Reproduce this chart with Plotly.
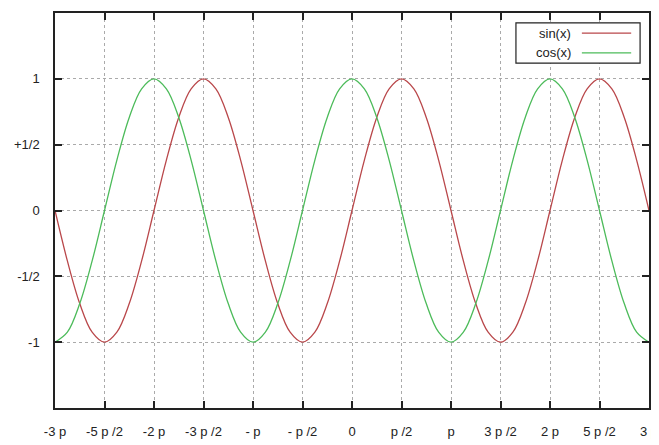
import math
import plotly.graph_objects as go

# x positions in units of pi (steps of pi/8) from -3pi to 3pi
x_pi = [-3.0, -2.875, -2.75, -2.625, -2.5, -2.375, -2.25, -2.125,
        -2.0, -1.875, -1.75, -1.625, -1.5, -1.375, -1.25, -1.125,
        -1.0, -0.875, -0.75, -0.625, -0.5, -0.375, -0.25, -0.125,
        0.0, 0.125, 0.25, 0.375, 0.5, 0.625, 0.75, 0.875,
        1.0, 1.125, 1.25, 1.375, 1.5, 1.625, 1.75, 1.875,
        2.0, 2.125, 2.25, 2.375, 2.5, 2.625, 2.75, 2.875, 3.0]

sin_vals = [0.0, -0.383, -0.707, -0.924, -1.0, -0.924, -0.707, -0.383,
            0.0, 0.383, 0.707, 0.924, 1.0, 0.924, 0.707, 0.383,
            0.0, -0.383, -0.707, -0.924, -1.0, -0.924, -0.707, -0.383,
            0.0, 0.383, 0.707, 0.924, 1.0, 0.924, 0.707, 0.383,
            0.0, -0.383, -0.707, -0.924, -1.0, -0.924, -0.707, -0.383,
            0.0, 0.383, 0.707, 0.924, 1.0, 0.924, 0.707, 0.383, 0.0]

cos_vals = [-1.0, -0.924, -0.707, -0.383, 0.0, 0.383, 0.707, 0.924,
            1.0, 0.924, 0.707, 0.383, 0.0, -0.383, -0.707, -0.924,
            -1.0, -0.924, -0.707, -0.383, 0.0, 0.383, 0.707, 0.924,
            1.0, 0.924, 0.707, 0.383, 0.0, -0.383, -0.707, -0.924,
            -1.0, -0.924, -0.707, -0.383, 0.0, 0.383, 0.707, 0.924,
            1.0, 0.924, 0.707, 0.383, 0.0, -0.383, -0.707, -0.924, -1.0]

x_tick_vals = [-3, -2.5, -2, -1.5, -1, -0.5, 0, 0.5, 1, 1.5, 2, 2.5, 3]
x_tick_text = ["-3 p", "-5 p /2", "-2 p", "-3 p /2", "- p", "- p /2", "0",
               "p /2", "p", "3 p /2", "2 p", "5 p /2", "3 p"]
y_tick_vals = [-1, -0.5, 0, 0.5, 1]
y_tick_text = ["-1", "-1/2", "0", "+1/2", "1"]

series_names = ["sin(x)", "cos(x)"]
series_colors = ["#b9474a", "#4cbb5a"]

fig = go.Figure()
for name, vals, col in zip(series_names, [sin_vals, cos_vals], series_colors):
    fig.add_trace(go.Scatter(x=x_pi, y=vals, mode="lines", name=name,
                             line=dict(color=col, width=1.3, shape="spline", smoothing=1.0),
                             showlegend=False))

font = dict(family="Liberation Sans, Arial, sans-serif", size=13, color="#222")

axis_common = dict(showline=True, linecolor="#222", linewidth=1.5, mirror="ticks",
                   ticks="inside", ticklen=7, tickwidth=1.5, tickcolor="#222",
                   showgrid=True, gridcolor="#aaaaaa", gridwidth=1, griddash="3px,3px",
                   zeroline=False, tickfont=font, automargin=False,
                   ticklabeloverflow="allow")

fig.update_xaxes(range=[-3, 3], tickmode="array", tickvals=x_tick_vals,
                 ticktext=x_tick_text, ticklabelstandoff=11, **axis_common)
fig.update_yaxes(range=[-1.5, 1.5], tickmode="array", tickvals=y_tick_vals,
                 ticktext=y_tick_text, ticklabelstandoff=11, **axis_common)

# gnuplot-style key box (text on left, sample on right)
fig.add_shape(type="rect", xref="paper", yref="paper", x0=0.776, x1=0.985,
              y0=0.873, y1=0.975, line=dict(color="#222", width=1.2),
              fillcolor="white", layer="above")
key_y = [0.949, 0.899]
for name, col, yy in zip(series_names, series_colors, key_y):
    fig.add_annotation(xref="paper", yref="paper", x=0.872, y=yy, text=name,
                       showarrow=False, xanchor="right", yanchor="middle", font=font)
    fig.add_shape(type="line", xref="paper", yref="paper", x0=0.887, x1=0.970,
                  y0=yy, y1=yy, line=dict(color=col, width=1.3), layer="above")

# page body has an 8px default margin; the figure is offset to compensate
fig.update_layout(width=659, height=437, margin=dict(l=47, r=18, t=5, b=37),
                  plot_bgcolor="white", paper_bgcolor="white", font=font)

fig.write_html("out.html")
